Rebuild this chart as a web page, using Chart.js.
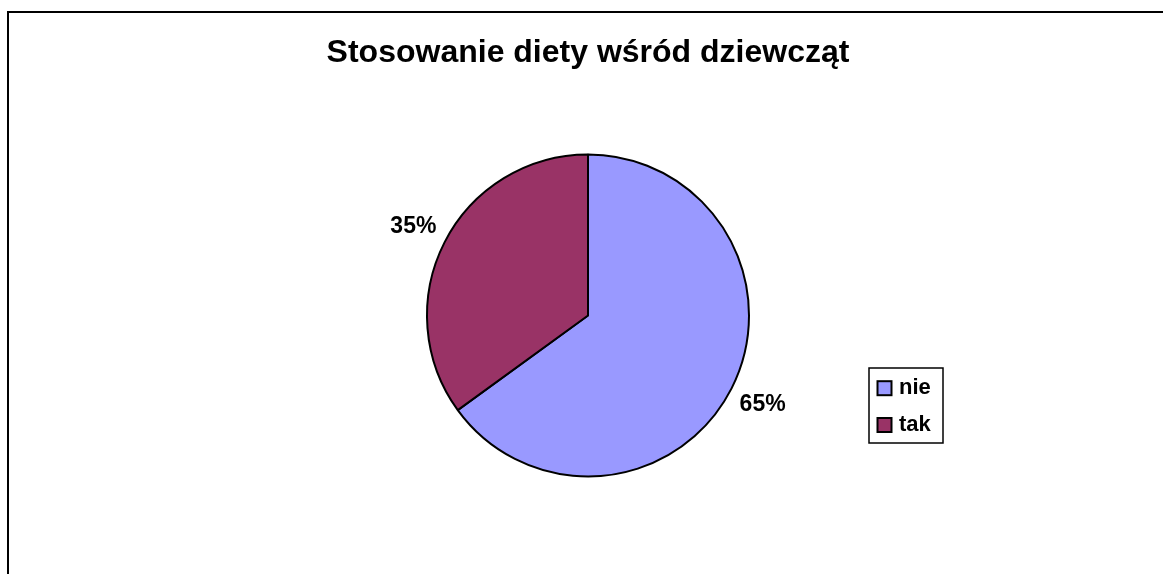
<!DOCTYPE html>
<html>
<head>
<meta charset="utf-8">
<script src="https://cdn.jsdelivr.net/npm/chart.js@4.4.1/dist/chart.umd.min.js"></script>
<style>
  html, body { margin:0; padding:0; background:#fff; overflow:hidden; }
  #wrap { position:relative; width:1163px; height:574px; }
  canvas { position:absolute; left:0; top:0; }
</style>
</head>
<body>
<div id="wrap"><canvas id="chart" width="1163" height="574"></canvas></div>
<script>
'use strict';
// data
const titleText = 'Stosowanie diety wśród dziewcząt';
const categories = ['nie', 'tak'];
const shares = [65, 35];
const sliceColors = ['#9999ff', '#993366'];

const FONT = "'Liberation Sans', Arial, sans-serif";

// outer frame (top + left edge of the chart box)
const framePlugin = {
  id: 'frame',
  beforeDraw(chart) {
    const ctx = chart.ctx;
    ctx.save();
    ctx.strokeStyle = '#000';
    ctx.lineWidth = 2;
    ctx.beginPath();
    ctx.moveTo(8, chart.height + 5);
    ctx.lineTo(8, 12);
    ctx.lineTo(chart.width + 5, 12);
    ctx.stroke();
    ctx.restore();
  }
};

// percentage labels outside the slices
const pctLabels = {
  id: 'pctLabels',
  afterDatasetsDraw(chart) {
    const ctx = chart.ctx;
    const meta = chart.getDatasetMeta(0);
    const data = chart.data.datasets[0].data;
    const total = data.reduce((a, b) => a + b, 0);
    ctx.save();
    ctx.font = `bold 23px ${FONT}`;
    ctx.fillStyle = '#000';
    ctx.textAlign = 'center';
    ctx.textBaseline = 'middle';
    meta.data.forEach((arc, i) => {
      const { x, y, startAngle, endAngle, outerRadius } = arc.getProps(['x','y','startAngle','endAngle','outerRadius'], true);
      const mid = (startAngle + endAngle) / 2;
      const r = outerRadius + 35;
      ctx.fillText(Math.round(data[i] / total * 100) + '%', x + r * Math.cos(mid), y + r * Math.sin(mid));
    });
    ctx.restore();
  }
};

// boxed legend on the right
const boxLegend = {
  id: 'boxLegend',
  afterDraw(chart) {
    const ctx = chart.ctx;
    const ds = chart.data.datasets[0];
    const bx = 869, by = 368, bw = 74, bh = 75;
    ctx.save();
    ctx.strokeStyle = '#000';
    ctx.lineWidth = 1.5;
    ctx.strokeRect(bx, by, bw, bh);
    ctx.font = `bold 22px ${FONT}`;
    ctx.textBaseline = 'middle';
    ctx.textAlign = 'left';
    chart.data.labels.forEach((lab, i) => {
      const cy = 388.2 + i * 36.8;
      ctx.fillStyle = ds.backgroundColor[i];
      ctx.fillRect(877.5, cy - 7, 14, 14);
      ctx.lineWidth = 2;
      ctx.strokeRect(877.5, cy - 7, 14, 14);
      ctx.fillStyle = '#000';
      ctx.fillText(lab, 899, cy);
    });
    ctx.restore();
  }
};

new Chart(document.getElementById('chart'), {
  type: 'pie',
  data: {
    labels: categories,
    datasets: [{
      data: shares,
      backgroundColor: sliceColors,
      borderColor: '#000',
      borderWidth: 2,
      hoverOffset: 0,
      radius: 161
    }]
  },
  options: {
    responsive: false,
    animation: false,
    devicePixelRatio: 1,
    layout: { padding: { left: 13, right: 0, top: 0, bottom: 15.4 } },
    plugins: {
      legend: { display: false },
      tooltip: { enabled: false },
      title: {
        display: true,
        text: titleText,
        color: '#000',
        font: { family: FONT, size: 32, weight: 'bold', lineHeight: 1.2 },
        padding: { top: 34, bottom: 0 }
      }
    }
  },
  plugins: [framePlugin, pctLabels, boxLegend]
});
</script>
</body>
</html>
